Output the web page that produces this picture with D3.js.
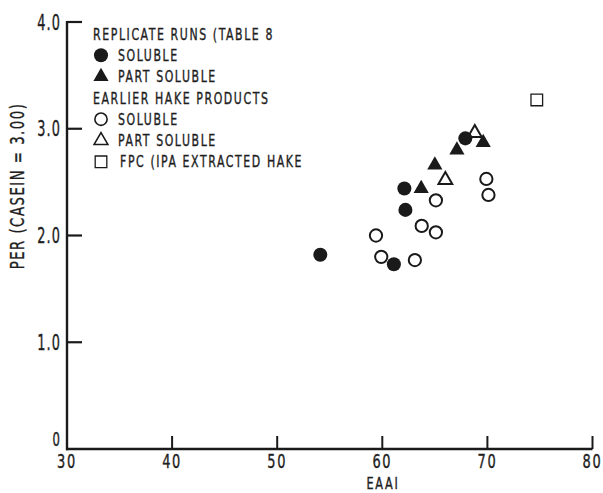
<!DOCTYPE html>
<html><head><meta charset="utf-8">
<script src="https://cdn.jsdelivr.net/npm/d3@7"></script>
<style>
html,body{margin:0;padding:0;background:#fff;}
svg{display:block;}
text{font-family:"Liberation Sans Narrow","DejaVu Sans Condensed","Arial Narrow",sans-serif;fill:#1e1e1e;stroke:#1e1e1e;stroke-width:0.35px;}
</style></head>
<body>
<script>
// ---- data ----
const xTicks = [30, 40, 50, 60, 70, 80];
const yTicks = [0, 1, 2, 3, 4];
const yTickLabels = ["0", "1.0", "2.0", "3.0", "4.0"];
const xLabel = "EAAI";
const yLabel = "PER (CASEIN = 3.00)";

// Replicate runs (Table 8)
const repSoluble = [[54.1, 1.82], [61.1, 1.73], [62.2, 2.24], [62.1, 2.44], [67.9, 2.91]];
const repPartSoluble = [[63.7, 2.44], [65.0, 2.66], [67.1, 2.80], [69.6, 2.87]];
// Earlier hake products
const earlySoluble = [[59.4, 2.00], [59.9, 1.80], [63.1, 1.77], [63.75, 2.09], [65.1, 2.03], [65.1, 2.33], [69.9, 2.53], [70.1, 2.38]];
const earlyPartSoluble = [[66.0, 2.52], [68.8, 2.96]];
const fpcIpa = [[74.7, 3.27]];

const legendItems = [
  {label: "REPLICATE RUNS (TABLE 8", kind: "header"},
  {label: "SOLUBLE", kind: "circle", filled: true},
  {label: "PART SOLUBLE", kind: "triangle", filled: true},
  {label: "EARLIER HAKE PRODUCTS", kind: "header"},
  {label: "SOLUBLE", kind: "circle", filled: false},
  {label: "PART SOLUBLE", kind: "triangle", filled: false},
  {label: "FPC (IPA EXTRACTED HAKE", kind: "square", filled: false}
];

// ---- drawing ----
const W = 603, H = 493;
const svg = d3.select("body").append("svg").attr("width", W).attr("height", H);
const x = d3.scaleLinear().domain([30, 80]).range([67, 592.5]);
const y = d3.scaleLinear().domain([0, 4]).range([449, 22]);
const ink = "#1a1a1a";

// condensed text helper
function ctext(g, tx, ty, str, size, sx, anchor, extra) {
  const t = g.append("g").attr("transform", `translate(${tx},${ty}) scale(${sx},1)`)
    .append("text").attr("font-size", size).attr("text-anchor", anchor || "start")
    .attr("dominant-baseline", "central").text(str);
  if (extra) t.attr("letter-spacing", extra);
  return t;
}

// axes
svg.append("line").attr("x1", x(30)).attr("x2", x(30)).attr("y1", y(4) - 1).attr("y2", y(0) + 1.2)
  .attr("stroke", ink).attr("stroke-width", 2.4);
svg.append("line").attr("x1", x(30) - 1).attr("x2", x(80)).attr("y1", y(0)).attr("y2", y(0))
  .attr("stroke", ink).attr("stroke-width", 2.4);

// y ticks
svg.selectAll(".yt").data(yTicks.filter(d => d > 0)).join("line")
  .attr("x1", x(30)).attr("x2", x(30) + 15).attr("y1", d => y(d)).attr("y2", d => y(d))
  .attr("stroke", ink).attr("stroke-width", 2.2);
yTicks.forEach((d, i) => {
  ctext(svg, 61, y(d) + (d === 0 ? -9 : 0), yTickLabels[i], d === 0 ? 19 : 21, 0.68, "end", "1.6");
});

// x ticks
svg.selectAll(".xt").data(xTicks.filter(d => d > 30)).join("line")
  .attr("x1", d => x(d)).attr("x2", d => x(d)).attr("y1", y(0)).attr("y2", y(0) - 13)
  .attr("stroke", ink).attr("stroke-width", 2);
xTicks.forEach(d => {
  ctext(svg, x(d), 461.5, String(d), 19.5, 0.74, "middle", "2.2");
});

// axis titles
ctext(svg, 383, 482.5, xLabel, 16.5, 0.76, "middle", "2.2");
svg.append("g").attr("transform", `translate(17,186) rotate(-90) scale(0.74,1)`)
  .append("text").attr("font-size", 20).attr("text-anchor", "middle")
  .attr("dominant-baseline", "central").attr("letter-spacing", "2").text(yLabel);

// symbols
const sym = {
  circle: d3.symbol().type(d3.symbolCircle).size(155),
  circleOpen: d3.symbol().type(d3.symbolCircle).size(118),
  triangle: d3.symbol().type(d3.symbolTriangle).size(100),
  triangleOpen: d3.symbol().type(d3.symbolTriangle).size(82),
  square: d3.symbol().type(d3.symbolSquare).size(135)
};
function drawMarks(data, kind, filled) {
  const key = filled ? kind : (kind === "square" ? "square" : kind + "Open");
  svg.append("g").selectAll("path").data(data).join("path")
    .attr("d", sym[key]())
    .attr("transform", d => `translate(${x(d[0])},${y(d[1])})`)
    .attr("fill", filled ? ink : "#fff")
    .attr("stroke", ink).attr("stroke-width", filled ? 0 : (kind === "square" ? 1.3 : 2));
}
drawMarks(earlySoluble, "circle", false);
drawMarks(earlyPartSoluble, "triangle", false);
drawMarks(fpcIpa, "square", false);
drawMarks(repSoluble, "circle", true);
drawMarks(repPartSoluble, "triangle", true);

// legend
const legY0 = 34, legDy = 21.3;
legendItems.forEach((it, i) => {
  const ly = legY0 + i * legDy;
  if (it.kind === "header") {
    ctext(svg, 93, ly, it.label, 16, 0.76, "start", "2.1");
  } else {
    const key = it.filled ? it.kind : (it.kind === "square" ? "square" : it.kind + "Open");
    svg.append("path").attr("d", sym[key]())
      .attr("transform", `translate(101,${ly})`)
      .attr("fill", it.filled ? ink : "#fff")
      .attr("stroke", ink).attr("stroke-width", it.filled ? 0 : (it.kind === "square" ? 1.3 : 1.6));
    ctext(svg, it.kind === "square" ? 120 : 118, ly, it.label, 16, 0.76, "start", "2.1");
  }
});
</script>
</body></html>
